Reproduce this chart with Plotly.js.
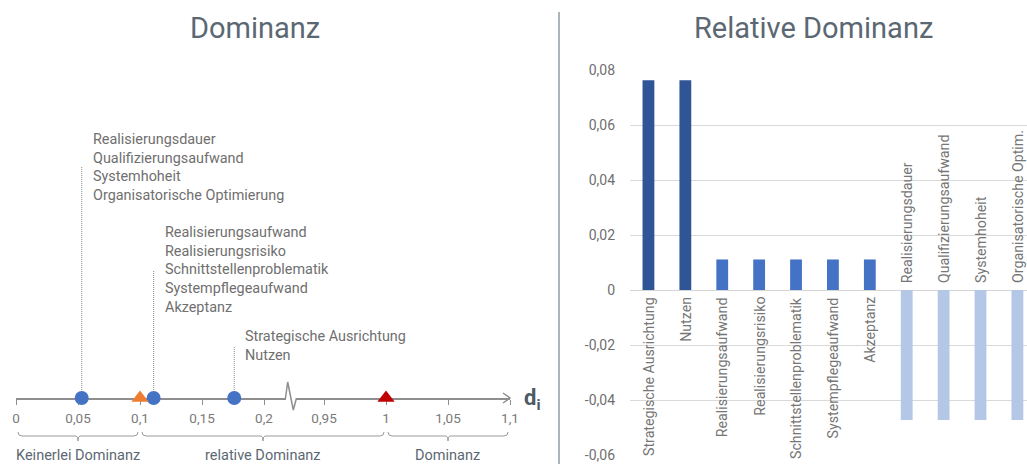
<!DOCTYPE html>
<html>
<head>
<meta charset="utf-8">
<script src="https://cdn.plot.ly/plotly-3.0.1.min.js"></script>
<style>
  html, body { margin: 0; padding: 0; background: #fff; }
  #chart { width: 1027px; height: 464px; }
</style>
</head>
<body>
<div id="chart"></div>
<script>
// ---- Dominanz: criteria grouped by their dominance value d_i ----
const groupValues = [0.053, 0.111, 0.176];
const groupLabels = [
  ['Realisierungsdauer', 'Qualifizierungsaufwand', 'Systemhoheit', 'Organisatorische Optimierung'],
  ['Realisierungsaufwand', 'Realisierungsrisiko', 'Schnittstellenproblematik', 'Systempflegeaufwand', 'Akzeptanz'],
  ['Strategische Ausrichtung', 'Nutzen']
];

// band limits on the d_i scale and the band names
const bandEdges = [0, 0.1, 1, 1.1];
const bandNames = ['Keinerlei Dominanz', 'relative Dominanz', 'Dominanz'];

// tick values of the two axis pieces (left of and right of the break)
const ticksLow = [0, 0.05, 0.1, 0.15, 0.2];
const ticksHigh = [0.95, 1, 1.05, 1.1];

// ---- Relative Dominanz ----
const categories = [
  'Strategische Ausrichtung', 'Nutzen', 'Realisierungsaufwand', 'Realisierungsrisiko',
  'Schnittstellenproblematik', 'Systempflegeaufwand', 'Akzeptanz',
  'Realisierungsdauer', 'Qualifizierungsaufwand', 'Systemhoheit', 'Organisatorische Optimierung'
];
const barLabels = [
  'Strategische Ausrichtung', 'Nutzen', 'Realisierungsaufwand', 'Realisierungsrisiko',
  'Schnittstellenproblematik', 'Systempflegeaufwand', 'Akzeptanz',
  'Realisierungsdauer', 'Qualifizierungsaufwand', 'Systemhoheit', 'Organisatorische Optim.'
];
const relDominanz = [0.0763, 0.0763, 0.0111, 0.0111, 0.0111, 0.0111, 0.0111, -0.0473, -0.0473, -0.0473, -0.0473];
const relTicks = [-0.06, -0.04, -0.02, 0, 0.02, 0.04, 0.06, 0.08];

// ---------------- layout geometry ----------------
const W = 1027, H = 464;
const NL = { x0: 16, cut: 286, resume: 296, x1: 510, y: 398, ppu: 1240 };
const lowMax = (NL.cut - NL.x0) / NL.ppu;
const highMax = bandEdges[bandEdges.length - 1];
const highMin = highMax - (NL.x1 - NL.resume) / NL.ppu;
const labelRise = [231, 128, 52];          // px above the number line for each label block

const px = v => v / W;                      // pixel x -> paper
const py = v => 1 - v / H;                  // pixel y (from top) -> paper
const valToPx = v => v <= lowMax ? NL.x0 + v * NL.ppu : NL.resume + (v - highMin) * NL.ppu;
const axisFor = v => v <= lowMax ? 'x' : 'x2';

const slate = '#5b6873';
const grey = '#7a7a7a';
const lineGrey = '#8e8e8e';
const font = 'Roboto, "Open Sans", sans-serif';

const groupColor = ['#B4C7E7', '#4472C4', '#2F5597'];

// colour of each bar follows the dominance group of its criterion
const barColors = categories.map(c => {
  const g = groupLabels.findIndex(list => list.includes(c));
  return groupColor[g];
});

const traces = [];

// dominance points on the number line
traces.push({
  type: 'scatter', mode: 'markers', xaxis: 'x', yaxis: 'y',
  x: groupValues, y: groupValues.map(() => 0),
  marker: { symbol: 'circle', size: 14, color: '#4472C4' },
  cliponaxis: false, hoverinfo: 'skip', showlegend: false
});
// band limits: 0,1 (orange) and 1 (red)
[[bandEdges[1], '#ED7D31'], [bandEdges[2], '#C00000']].forEach(([v, col]) => {
  traces.push({
    type: 'scatter', mode: 'markers', xaxis: axisFor(v), yaxis: 'y',
    x: [v], y: [0],
    marker: { symbol: 'triangle-up', size: 15, color: col },
    cliponaxis: false, hoverinfo: 'skip', showlegend: false
  });
});

// relative dominance bars
traces.push({
  type: 'bar', xaxis: 'x3', yaxis: 'y3',
  x: categories, y: relDominanz, width: 0.32,
  marker: { color: barColors, line: { width: 0 } },
  hoverinfo: 'skip', showlegend: false
});

const shapes = [];
const annotations = [];

// dotted leaders from each point to its label block
groupValues.forEach((d, i) => {
  shapes.push({
    type: 'line', xref: 'x', yref: 'y', x0: d, x1: d, y0: 0, y1: labelRise[i],
    line: { color: '#8a8a8a', width: 1, dash: '1px,1px' }, layer: 'below'
  });
  annotations.push({
    xref: 'x', yref: 'y', x: d, y: labelRise[i], xanchor: 'left', yanchor: 'middle',
    xshift: 9, align: 'left', showarrow: false,
    text: groupLabels[i].join('<br>'),
    font: { family: font, size: 14.4, color: '#6f6f6f' }
  });
});

// axis break zigzag
shapes.push({
  type: 'path', xref: 'paper', yref: 'paper',
  path: `M ${px(NL.cut - 0.5)} ${py(NL.y)} L ${px(NL.cut + 1.7)} ${py(382)} L ${px(NL.cut + 7.3)} ${py(410)} L ${px(NL.resume + 0.5)} ${py(NL.y)}`,
  line: { color: lineGrey, width: 1.5 }, layer: 'below'
});
// arrow head at the end of the scale
shapes.push({
  type: 'path', xref: 'paper', yref: 'paper',
  path: `M ${px(NL.x1 - 7)} ${py(NL.y - 5)} L ${px(NL.x1)} ${py(NL.y)} L ${px(NL.x1 - 7)} ${py(NL.y + 5)}`,
  line: { color: lineGrey, width: 1.5 }
});

// braces below the scale with band names
for (let b = 0; b < bandNames.length; b++) {
  const a = valToPx(bandEdges[b]) + 2;
  const e = valToPx(bandEdges[b + 1]) - 2;
  const m = (a + e) / 2;
  const yt = 432, yb = 436, yc = 441;
  shapes.push({
    type: 'path', xref: 'paper', yref: 'paper',
    path: `M ${px(a)} ${py(yt)} Q ${px(a)} ${py(yb)} ${px(a + 4)} ${py(yb)} L ${px(m - 2)} ${py(yb)} ` +
          `Q ${px(m)} ${py(yb)} ${px(m)} ${py(yc)} Q ${px(m)} ${py(yb)} ${px(m + 2)} ${py(yb)} ` +
          `L ${px(e - 4)} ${py(yb)} Q ${px(e)} ${py(yb)} ${px(e)} ${py(yt)}`,
    line: { color: '#9a9a9a', width: 1 }
  });
  annotations.push({
    xref: 'paper', yref: 'paper', x: px(m), y: py(455), xanchor: 'center', yanchor: 'middle',
    showarrow: false, text: bandNames[b],
    font: { family: font, size: 14.5, color: slate }
  });
}

// d_i label
annotations.push({
  xref: 'paper', yref: 'paper', x: px(522), y: py(399), xanchor: 'left', yanchor: 'middle',
  showarrow: false, text: '<b>d<sub>i</sub></b>',
  font: { family: font, size: 22, color: '#4d5963' }
});

// divider between the two panels
shapes.push({
  type: 'line', xref: 'paper', yref: 'paper', x0: px(559), x1: px(559), y0: 0, y1: py(12),
  line: { color: '#8e9ca6', width: 1.5 }
});

// panel titles
annotations.push({
  xref: 'paper', yref: 'paper', x: px(255), y: py(28), xanchor: 'center', yanchor: 'middle',
  showarrow: false, text: 'Dominanz', font: { family: font, size: 29, color: slate }
});
annotations.push({
  xref: 'paper', yref: 'paper', x: px(813), y: py(28), xanchor: 'center', yanchor: 'middle',
  showarrow: false, text: 'Relative Dominanz', font: { family: font, size: 29, color: slate }
});

// category names next to the zero line (below positive bars, above negative bars)
categories.forEach((c, i) => {
  const pos = relDominanz[i] >= 0;
  annotations.push({
    xref: 'x3', yref: 'y3', x: c, y: 0, textangle: -90,
    xanchor: 'center', yanchor: pos ? 'top' : 'bottom', yshift: pos ? -5 : 5,
    showarrow: false, text: barLabels[i],
    font: { family: font, size: 14.2, color: '#767676' }
  });
});

const numAxisBase = {
  anchor: 'y', showgrid: false, zeroline: false, showline: true,
  linecolor: lineGrey, linewidth: 1.5, layer: 'below traces',
  ticks: 'outside', ticklen: 5, tickwidth: 1, tickcolor: lineGrey,
  tickfont: { family: font, size: 13.5, color: grey },
  ticklabelstandoff: 2, fixedrange: true
};

const layout = {
  width: W, height: H,
  margin: { l: 0, r: 0, t: 0, b: 0 },
  paper_bgcolor: '#fff', plot_bgcolor: 'rgba(0,0,0,0)',
  separators: ',.',
  showlegend: false,
  font: { family: font },
  xaxis: Object.assign({}, numAxisBase, {
    domain: [px(NL.x0), px(NL.cut)], range: [0, lowMax], tickvals: ticksLow
  }),
  xaxis2: Object.assign({}, numAxisBase, {
    domain: [px(NL.resume), px(NL.x1)], range: [highMin, highMax], tickvals: ticksHigh
  }),
  yaxis: {
    domain: [1 - NL.y / H, 1], range: [0, NL.y], visible: false, fixedrange: true
  },
  xaxis3: {
    anchor: 'y3', domain: [px(630), 1], type: 'category',
    range: [-0.5, categories.length - 0.74],
    showticklabels: false, ticks: '', showgrid: false, zeroline: false, showline: false
  },
  yaxis3: {
    anchor: 'x3', domain: [py(455), py(70)], range: [relTicks[0], relTicks[relTicks.length - 1]],
    tickvals: relTicks,
    ticktext: relTicks.map(t => t === 0 ? '0' : t.toFixed(2).replace('.', ',')),
    showgrid: true, gridcolor: '#d9d9d9', gridwidth: 1,
    zeroline: true, zerolinecolor: '#d4d4d4', zerolinewidth: 1,
    ticks: '', ticklabelstandoff: 14,
    tickfont: { family: font, size: 14, color: '#6f6f6f' }
  },
  shapes: shapes,
  annotations: annotations
};

Plotly.newPlot('chart', traces, layout, { displayModeBar: false, staticPlot: true });
</script>
</body>
</html>
